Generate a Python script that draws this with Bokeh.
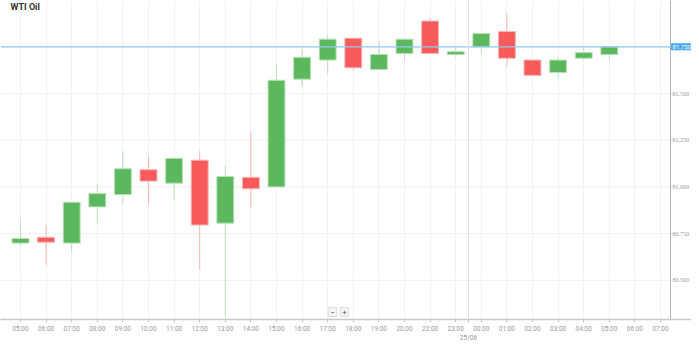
from bokeh.plotting import figure
from bokeh.models import FixedTicker, Span, Label, Range1d, ColumnDataSource
from bokeh.embed import file_html
from bokeh.resources import INLINE

# ---- data ----
tick_labels = ["05:00", "06:00", "07:00", "08:00", "09:00", "10:00", "11:00", "12:00",
               "13:00", "14:00", "15:00", "16:00", "17:00", "18:00", "19:00", "20:00",
               "22:00", "23:00", "00:00", "01:00", "02:00", "03:00", "04:00", "05:00",
               "06:00", "07:00"]
opens = [80.699, 80.730, 80.699, 80.893, 80.959, 81.092, 81.020, 81.143, 80.806, 81.051,
         81.000, 81.577, 81.679, 81.796, 81.628, 81.714, 81.888, 81.709, 81.750, 81.832,
         81.679, 81.612, 81.689, 81.709]
closes = [80.724, 80.704, 80.918, 80.964, 81.097, 81.031, 81.153, 80.796, 81.056, 80.990,
          81.571, 81.694, 81.791, 81.638, 81.709, 81.791, 81.714, 81.724, 81.821, 81.689,
          81.597, 81.679, 81.719, 81.750]
highs = [80.816, 80.796, 80.918, 81.015, 81.194, 81.163, 81.153, 81.194, 81.112, 81.296,
         81.653, 81.735, 81.811, 81.796, 81.781, 81.791, 81.903, 81.750, 81.821, 81.929,
         81.679, 81.694, 81.750, 81.750]
lows = [80.684, 80.582, 80.648, 80.806, 80.913, 80.908, 80.929, 80.556, 80.306, 80.893,
        81.000, 81.541, 81.602, 81.622, 81.628, 81.684, 81.714, 81.694, 81.714, 81.643,
        81.592, 81.582, 81.679, 81.684]
y_ticks = [80.5, 80.75, 81.0, 81.25, 81.5, 81.75]
last_price = 81.75
day_break = 17.5
day_label = "25/06"
title_text = "WTI Oil"

GREEN = "#5cb85c"
GREEN_L = "#b9e2b9"
RED = "#f65a5a"
RED_L = "#f8b4b4"
TICK_GRAY = "#9a9a9a"
FONT = "Roboto"

X_START, X_END = -0.781, 26.211
Y_START, Y_END = 80.290, 81.998
AXIS_X = 25.391  # where the price scale sits (right edge of the plot area)

x = list(range(len(opens)))
up = [c >= o for o, c in zip(opens, closes)]
src = ColumnDataSource(dict(
    x=x, top=[max(o, c) for o, c in zip(opens, closes)],
    bottom=[min(o, c) for o, c in zip(opens, closes)],
    high=highs, low=lows,
    fill=[GREEN if u else RED for u in up],
    line=[GREEN_L if u else RED_L for u in up],
))

W, H = 691, 345
p = figure(width=W, height=H, output_backend="svg", toolbar_location=None,
           x_range=Range1d(X_START, X_END), y_range=Range1d(Y_START, Y_END),
           min_border_left=0, min_border_top=0, min_border_right=0, min_border_bottom=21,
           y_axis_location=None)
p.outline_line_color = None
p.background_fill_color = "white"
p.border_fill_color = "white"

# vertical grid
p.xgrid.ticker = FixedTicker(ticks=list(range(len(tick_labels))))
p.xgrid.grid_line_color = "#f2f2f2"
for g in p.ygrid:
    g.visible = False
    g.grid_line_color = None

# horizontal grid (stops at the price scale)
p.segment(x0=[X_START] * len(y_ticks), x1=[AXIS_X] * len(y_ticks), y0=y_ticks, y1=y_ticks,
          line_color="#f0f0f0", line_width=1)
# price-scale ticks
p.segment(x0=[AXIS_X] * len(y_ticks), x1=[AXIS_X + 0.06] * len(y_ticks), y0=y_ticks, y1=y_ticks,
          line_color="#d8d8d8", line_width=1)

# x axis
xa = p.xaxis[0]
xticks = list(range(len(tick_labels))) + [day_break]
xa.ticker = FixedTicker(ticks=xticks)
overrides = {i: t for i, t in enumerate(tick_labels)}
overrides[day_break] = "\n" + day_label
xa.major_label_overrides = overrides
xa.major_label_text_font = FONT
xa.major_label_text_font_size = "6.5px"
xa.major_label_text_color = TICK_GRAY
xa.major_label_standoff = 2
xa.axis_line_color = "#c8c8c8"
xa.axis_line_width = 1.5
xa.major_tick_line_color = "#c8c8c8"
xa.major_tick_out = 3
xa.major_tick_in = 0
xa.minor_tick_line_color = None

# day separator
p.add_layout(Span(location=day_break, dimension="height", line_color="#e0e0e0", line_width=1))

# price scale line
p.add_layout(Span(location=AXIS_X, dimension="height", line_color="#b4b4b4", line_width=1))

# price-scale labels
p.text(x=[AXIS_X] * len(y_ticks), y=y_ticks, text=[f"{v:.3f}" for v in y_ticks],
       x_offset=2, text_font=FONT, text_font_size="6px", text_color=TICK_GRAY,
       text_align="left", text_baseline="middle")

# candles
p.segment(x0="x", x1="x", y0="low", y1="high", line_color="line", line_width=1, source=src)
p.vbar(x="x", width=0.66, top="top", bottom="bottom", fill_color="fill",
       line_color="line", line_width=1, source=src)

# current price line + label
p.segment(x0=[X_START], x1=[AXIS_X], y0=[last_price], y1=[last_price],
          line_color="#8fcaf6", line_width=1.3)
p.add_layout(Label(x=AXIS_X, y=last_price, x_offset=1, text=f"{last_price:.3f}",
                   text_font=FONT, text_font_size="6px",
                   text_color="white", text_baseline="middle", text_align="left",
                   background_fill_color="#45aaf2", border_line_color="#45aaf2",
                   padding=1))

# title
p.add_layout(Label(x=10, y=313, x_units="screen", y_units="screen", text=title_text,
                   text_font=FONT, text_font_size="9px", text_font_style="bold",
                   text_color="#333333", text_baseline="middle", text_align="left"))

# zoom buttons
for cx, t in [(332, "\u2212"), (344, "+")]:
    p.add_layout(Label(x=cx, y=3, x_units="screen", y_units="screen", text=t,
                       text_font=FONT, text_font_size="8px", text_color="#555555",
                       text_baseline="bottom", text_align="center",
                       background_fill_color="#f4f4f4", border_line_color="#dddddd",
                       padding=2))

open("out.html", "w").write(file_html(p, INLINE))
